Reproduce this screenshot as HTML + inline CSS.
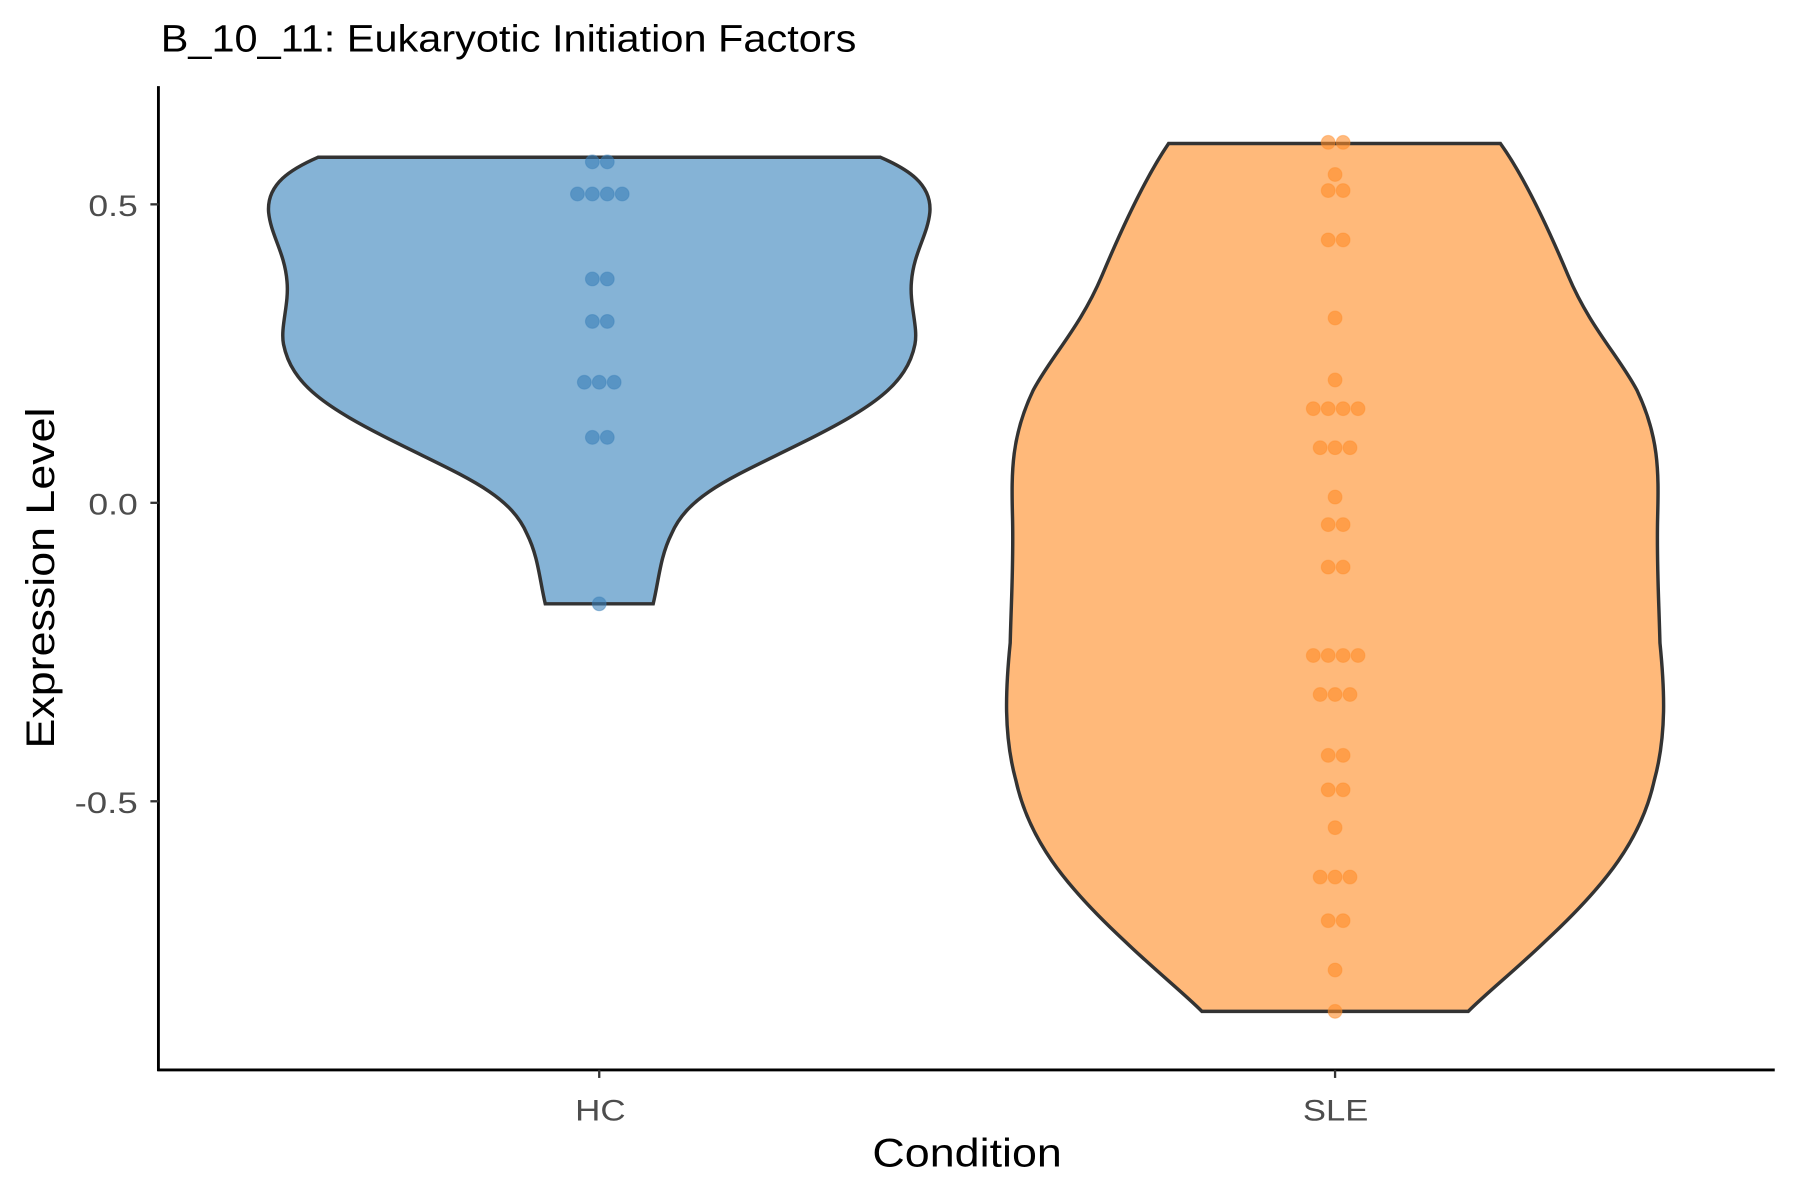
<!DOCTYPE html>
<html><head><meta charset="utf-8"><style>html,body{margin:0;padding:0;background:#fff}svg{display:block}</style></head>
<body>
<svg width="1800" height="1200" viewBox="0 0 1568 1045.33" xmlns="http://www.w3.org/2000/svg" font-family="Liberation Sans, Arial, sans-serif">
<rect width="1568" height="1046" fill="#fff"/>
<text x="140" y="45" font-size="33" fill="#000" textLength="606" lengthAdjust="spacingAndGlyphs">B_10_11: Eukaryotic Initiation Factors</text>
<path d="M277,137 L767,137 C790,147 812,160 810,185 C808,205 796,220 794,245 C792,265 800,285 797,300 C790,335 760,355 700,385 C640,415 600,430 585,465 C575,485 574,505 569,526 L475,526 C470,505 469,485 459,465 C444,430 404,415 344,385 C284,355 254,335 247,300 C244,285 252,265 250,245 C248,220 236,205 234,185 C232,160 254,147 277,137 Z" fill="#85b3d6" stroke="#333" stroke-width="3"/>
<path d="M1018,125 L1307,125 C1325,150 1345,190 1366,240 C1385,285 1410,310 1426,340 C1445,380 1445,410 1444,450 C1443,490 1445,520 1446,560 C1450,600 1452,640 1441,680 C1430,730 1400,770 1346,820 C1320,845 1295,865 1279,881 L1047,881 C1031,865 1006,845 980,820 C926,770 896,730 885,680 C874,640 876,600 880,560 C881,520 883,490 882,450 C881,410 881,380 900,340 C916,310 941,285 960,240 C981,190 1001,150 1018,125 Z" fill="#ffb97a" stroke="#333" stroke-width="3"/>
<g fill="#3a7fb8" fill-opacity="0.6" stroke="#3a7fb8" stroke-opacity="0.4" stroke-width="1">
<circle cx="516" cy="141" r="6"/><circle cx="529" cy="141" r="6"/>
<circle cx="503" cy="169" r="6"/><circle cx="516" cy="169" r="6"/><circle cx="529" cy="169" r="6"/><circle cx="542" cy="169" r="6"/>
<circle cx="516" cy="243" r="6"/><circle cx="529" cy="243" r="6"/>
<circle cx="516" cy="280" r="6"/><circle cx="529" cy="280" r="6"/>
<circle cx="509" cy="333" r="6"/><circle cx="522" cy="333" r="6"/><circle cx="535" cy="333" r="6"/>
<circle cx="516" cy="381" r="6"/><circle cx="529" cy="381" r="6"/>
<circle cx="522" cy="526" r="6"/>
</g>
<g fill="#ff8c28" fill-opacity="0.6" stroke="#ff8c28" stroke-opacity="0.4" stroke-width="1">
<circle cx="1157" cy="124" r="6"/><circle cx="1170" cy="124" r="6"/>
<circle cx="1163" cy="152" r="6"/>
<circle cx="1157" cy="166" r="6"/><circle cx="1170" cy="166" r="6"/>
<circle cx="1157" cy="209" r="6"/><circle cx="1170" cy="209" r="6"/>
<circle cx="1163" cy="277" r="6"/>
<circle cx="1163" cy="331" r="6"/>
<circle cx="1144" cy="356" r="6"/><circle cx="1157" cy="356" r="6"/><circle cx="1170" cy="356" r="6"/><circle cx="1183" cy="356" r="6"/>
<circle cx="1150" cy="390" r="6"/><circle cx="1163" cy="390" r="6"/><circle cx="1176" cy="390" r="6"/>
<circle cx="1163" cy="433" r="6"/>
<circle cx="1157" cy="457" r="6"/><circle cx="1170" cy="457" r="6"/>
<circle cx="1157" cy="494" r="6"/><circle cx="1170" cy="494" r="6"/>
<circle cx="1144" cy="571" r="6"/><circle cx="1157" cy="571" r="6"/><circle cx="1170" cy="571" r="6"/><circle cx="1183" cy="571" r="6"/>
<circle cx="1150" cy="605" r="6"/><circle cx="1163" cy="605" r="6"/><circle cx="1176" cy="605" r="6"/>
<circle cx="1157" cy="658" r="6"/><circle cx="1170" cy="658" r="6"/>
<circle cx="1157" cy="688" r="6"/><circle cx="1170" cy="688" r="6"/>
<circle cx="1163" cy="721" r="6"/>
<circle cx="1150" cy="764" r="6"/><circle cx="1163" cy="764" r="6"/><circle cx="1176" cy="764" r="6"/>
<circle cx="1157" cy="802" r="6"/><circle cx="1170" cy="802" r="6"/>
<circle cx="1163" cy="845" r="6"/>
<circle cx="1163" cy="881" r="6"/>
</g>
<line x1="138" y1="75" x2="138" y2="933" stroke="#000" stroke-width="2.5"/>
<line x1="137" y1="932" x2="1546" y2="932" stroke="#000" stroke-width="2.5"/>
<g stroke="#333" stroke-width="2">
<line x1="131" y1="178" x2="138" y2="178"/><line x1="131" y1="438" x2="138" y2="438"/><line x1="131" y1="698" x2="138" y2="698"/>
<line x1="522" y1="932" x2="522" y2="939"/><line x1="1163" y1="932" x2="1163" y2="939"/>
</g>
<g font-size="26" fill="#4d4d4d">
<text x="77" y="188" textLength="43" lengthAdjust="spacingAndGlyphs">0.5</text>
<text x="77" y="448" textLength="43" lengthAdjust="spacingAndGlyphs">0.0</text>
<text x="65" y="708" textLength="55" lengthAdjust="spacingAndGlyphs">-0.5</text>
<text x="501" y="976" textLength="44" lengthAdjust="spacingAndGlyphs">HC</text>
<text x="1135" y="976" textLength="57" lengthAdjust="spacingAndGlyphs">SLE</text>
</g>
<text x="760" y="1016" font-size="35" fill="#000" textLength="165" lengthAdjust="spacingAndGlyphs">Condition</text>
<text transform="translate(47,652) rotate(-90)" font-size="35" fill="#000" textLength="297" lengthAdjust="spacingAndGlyphs">Expression Level</text>
</svg>
</body></html>
